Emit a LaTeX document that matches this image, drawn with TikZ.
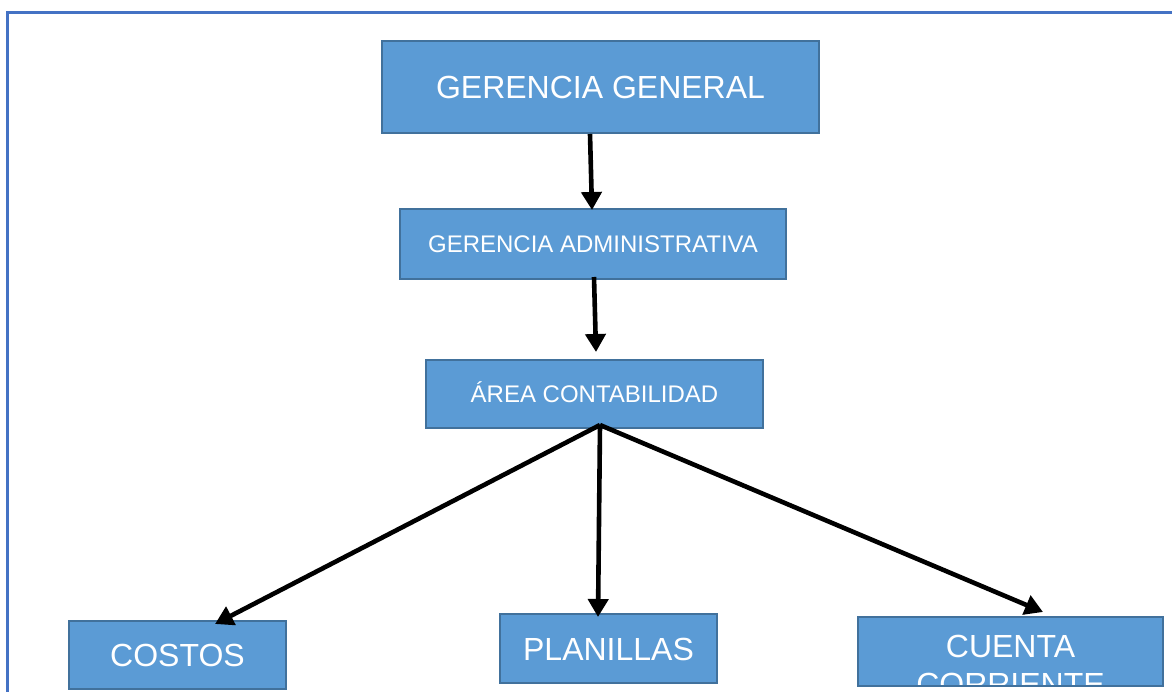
\documentclass[tikz,border=0pt]{standalone}
\usepackage{fontspec}
\setmainfont{Liberation Sans}
\usetikzlibrary{arrows.meta}
\definecolor{boxfill}{HTML}{5B9BD5}
\definecolor{boxline}{HTML}{41719C}
\definecolor{framecol}{HTML}{4472C4}
\begin{document}
\begin{tikzpicture}[x=1pt,y=-1pt,
  orgbox/.style={draw=boxline, line width=1.8pt, fill=boxfill, text=white, inner sep=0pt, text depth=0pt, align=center},
  bigtxt/.style={font=\fontsize{32}{38}\selectfont, text height=23pt},
  smalltxt/.style={font=\fontsize{24}{29}\selectfont, text height=17.2pt},
  conn/.style={line width=4.6pt, -{Triangle[length=18pt,width=20pt]}}]
\useasboundingbox (0,0) rectangle (1172,691);
\fill[white] (0,0) rectangle (1172,691);
\draw[framecol, line width=2.2pt] (7.5,700) -- (7.5,12.5) -- (1180,12.5);

\node[orgbox, bigtxt, minimum width=437pt, minimum height=92pt] (gg) at (600.5,87) {GERENCIA GENERAL};
\node[orgbox, smalltxt, minimum width=386pt, minimum height=70pt] (ga) at (593,244) {GERENCIA ADMINISTRATIVA};
\node[orgbox, smalltxt, minimum width=337pt, minimum height=68pt] (ac) at (594.5,394) {ÁREA CONTABILIDAD};
\node[orgbox, bigtxt, minimum width=217pt, minimum height=68pt] (costos) at (177.5,655) {COSTOS};
\node[orgbox, bigtxt, minimum width=217pt, minimum height=69pt] (plan) at (608.5,648.5) {PLANILLAS};
\node[orgbox, minimum width=305pt, minimum height=69pt] (cc) at (1010.5,651.5) {};
\begin{scope}
  \clip (859,618) rectangle (1162,684);
  \node[text=white, bigtxt, anchor=base, inner sep=0pt] (cctop) at (1010.5,657) {CUENTA};
  \node[text=white, bigtxt, anchor=base, inner sep=0pt] (ccbot) at (1010.5,695) {CORRIENTE};
\end{scope}

\coordinate (a1s) at (590,134);
\coordinate (a1e) at (592,210);
\coordinate (a2s) at (594,277);
\coordinate (a2e) at (596,352);
\coordinate (hub) at (600,425);
\coordinate (t1) at (215,624);
\coordinate (t2) at (598,617);
\coordinate (t3) at (1043,612);

\draw[conn] (a1s) -- (a1e);
\draw[conn] (a2s) -- (a2e);
\draw[conn] (hub) -- (t1);
\draw[conn] (hub) -- (t2);
\draw[conn] (hub) -- (t3);
\end{tikzpicture}
\end{document}
